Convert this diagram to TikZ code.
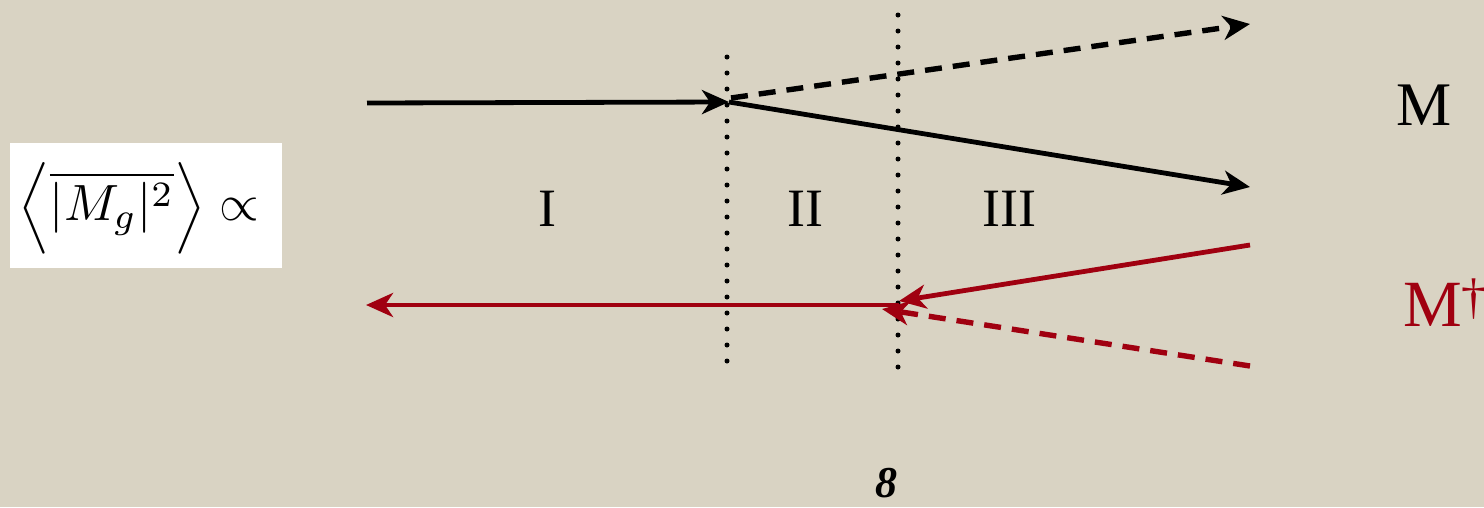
\documentclass[tikz,border=0pt]{standalone}
\usepackage{fontspec}
\usepackage{amsmath}
\setmainfont{Liberation Serif}
\usetikzlibrary{arrows.meta}
\definecolor{bg}{RGB}{217,211,195}
\definecolor{dred}{RGB}{160,0,16}
\begin{document}
\begin{tikzpicture}[x=1pt,y=-1pt,
  line/.style={line width=4.8pt},
  tip/.style={-{Stealth[length=27pt,width=24pt,inset=8pt]}},
  dsh/.style={line width=5.4pt,dash pattern=on 17pt off 11pt},
  dots/.style={line width=5pt,line cap=round,dash pattern=on 0pt off 16pt},
  lbl/.style={font=\fontsize{54}{60}\selectfont,inner sep=0pt}]
\fill[bg] (0,0) rectangle (1484,507);
\useasboundingbox (0,0) rectangle (1484,507);
% formula box
\node[fill=white,minimum width=272pt,minimum height=125pt,inner sep=0pt] (box) at (146,205.5) {};
\node[inner sep=0pt] (form) at (139,208) {\scalebox{5.1}{$\left\langle\overline{|M_g|^2}\right\rangle\propto$}};
% coordinates
\coordinate (a0) at (367,103);
\coordinate (a1) at (729,102);
\coordinate (a2) at (731,98);
\coordinate (d1) at (1250,24);
\coordinate (s1) at (1250,187);
\coordinate (r0) at (1250,245);
\coordinate (r1) at (899,301);
\coordinate (r2) at (899,305);
\coordinate (r3) at (366,305);
\coordinate (q0) at (1250,366);
\coordinate (q1) at (882,309);
\coordinate (v1t) at (727,57);
\coordinate (v1b) at (727,365);
\coordinate (v2t) at (898,15);
\coordinate (v2b) at (898,370);
% dotted
\draw[dots] (v1t) -- (v1b);
\draw[dots] (v2t) -- (v2b);
% black
\draw[line,tip] (a0) -- (a1);
\draw[dsh,tip] (a2) -- (d1);
\draw[line,tip] (a1) -- (s1);
% red
\draw[line,dred,tip] (r0) -- (r1);
\draw[line,dred,tip] (r2) -- (r3);
\draw[dsh,dred,tip] (q0) -- (q1);
% labels
\node[lbl] (l1) at (547,209) {I};
\node[lbl] (l2) at (805,209) {II};
\node[lbl] (l3) at (1009,209) {III};
\node[font=\fontsize{62}{66}\selectfont,inner sep=0pt,anchor=base] (m) at (1424,125) {M};
\node[font=\fontsize{66}{70}\selectfont,inner sep=0pt,text=dred,anchor=base west] (md) at (1403,326) {M\raisebox{13pt}{\fontsize{50}{50}\selectfont †}};
\node[font=\bfseries\itshape\fontsize{44}{48}\selectfont,inner sep=0pt,anchor=base] (g) at (886,497) {8};
\end{tikzpicture}
\end{document}
